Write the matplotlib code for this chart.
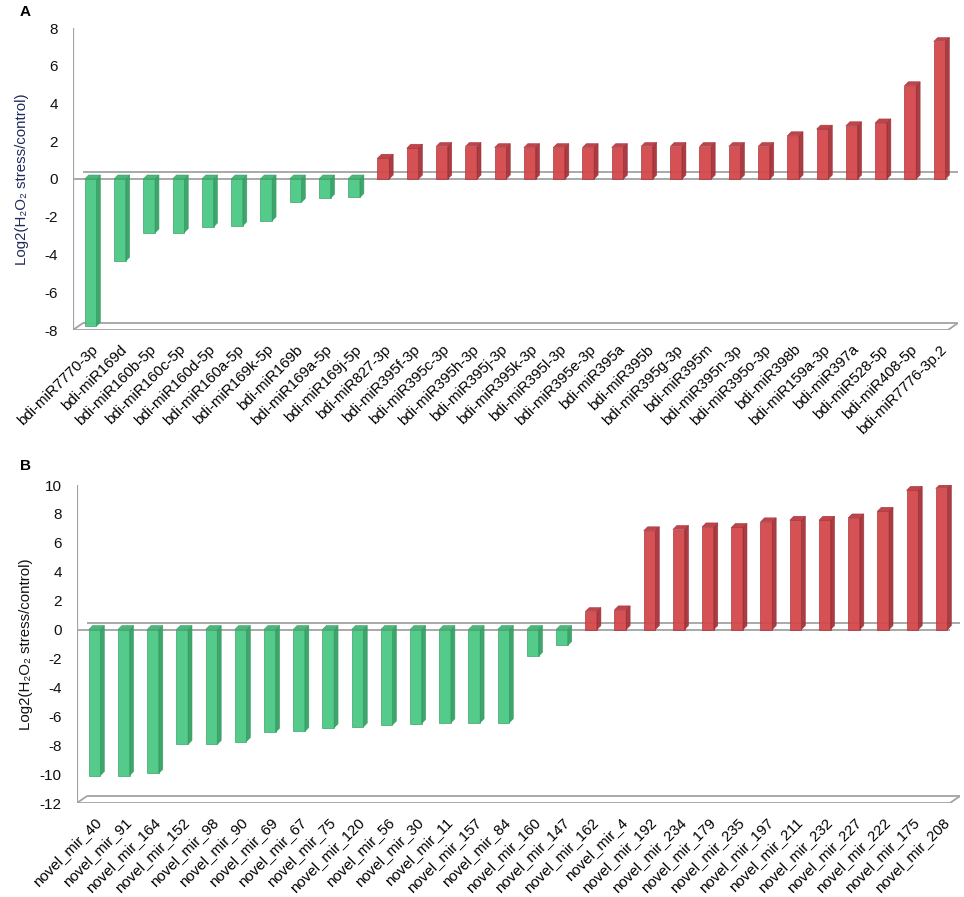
#!/usr/bin/env python3
"""Log2 fold change bars for known (A) and novel (B) miRNAs."""

import matplotlib
matplotlib.use("Agg")
import matplotlib.pyplot as plt
from matplotlib.patches import Polygon

plt.rcParams["font.family"] = ["Liberation Sans", "DejaVu Sans"]

labels_a = ["bdi-miR7770-3p", "bdi-miR169d", "bdi-miR160b-5p", "bdi-miR160c-5p",
            "bdi-miR160d-5p", "bdi-miR160a-5p", "bdi-miR169k-5p", "bdi-miR169b",
            "bdi-miR169a-5p", "bdi-miR169j-5p", "bdi-miR827-3p", "bdi-miR395f-3p",
            "bdi-miR395c-3p", "bdi-miR395h-3p", "bdi-miR395j-3p", "bdi-miR395k-3p",
            "bdi-miR395l-3p", "bdi-miR395e-3p", "bdi-miR395a", "bdi-miR395b",
            "bdi-miR395g-3p", "bdi-miR395m", "bdi-miR395n-3p", "bdi-miR395o-3p",
            "bdi-miR398b", "bdi-miR159a-3p", "bdi-miR397a", "bdi-miR528-5p",
            "bdi-miR408-5p", "bdi-miR7776-3p.2"]
values_a = [-7.8, -4.35, -2.86, -2.84, -2.54, -2.48, -2.22, -1.24, -1.01, -0.98,
            1.1, 1.63, 1.72, 1.72, 1.66, 1.66, 1.66, 1.66, 1.66, 1.72,
            1.72, 1.72, 1.72, 1.72, 2.29, 2.64, 2.82, 2.97, 4.94, 7.28]

labels_b = ["novel_mir_40", "novel_mir_91", "novel_mir_164", "novel_mir_152",
            "novel_mir_98", "novel_mir_90", "novel_mir_69", "novel_mir_67",
            "novel_mir_75", "novel_mir_120", "novel_mir_56", "novel_mir_30",
            "novel_mir_11", "novel_mir_157", "novel_mir_84", "novel_mir_160",
            "novel_mir_147", "novel_mir_162", "novel_mir_4", "novel_mir_192",
            "novel_mir_234", "novel_mir_179", "novel_mir_235", "novel_mir_197",
            "novel_mir_211", "novel_mir_232", "novel_mir_227", "novel_mir_222",
            "novel_mir_175", "novel_mir_208"]
values_b = [-10.1, -10.1, -9.95, -7.95, -7.95, -7.75, -7.1, -7.05, -6.8, -6.75,
            -6.6, -6.5, -6.45, -6.45, -6.45, -1.85, -1.1, 1.24, 1.36, 6.83,
            6.92, 7.1, 7.06, 7.45, 7.56, 7.56, 7.72, 8.18, 9.63, 9.75]

YLABEL = "Log2(H\u2082O\u2082 stress/control)"

GREEN = ("#4cc985", "#36a064", "#41b474")   # front, side, top
RED = ("#d4474b", "#a3323a", "#bc3b41")
LINE = "#a3a3a3"

W_PX, H_PX, DPI = 964, 897, 100


def panel(fig, rect, labels, values, ylim, yticks, ylabel_color):
    ax = fig.add_axes(rect)
    n = len(values)
    xlim = (-0.6, n - 0.37)
    ax.set_xlim(*xlim)
    ax.set_ylim(*ylim)

    # pixel -> data conversions for the fake 3D depth
    ux = rect[2] * W_PX / (xlim[1] - xlim[0])
    uy = rect[3] * H_PX / (ylim[1] - ylim[0])
    fdx, fdy = 10 / ux, 7 / uy     # floor / wall depth
    bdx, bdy = 4 / ux, 4 / uy      # bar depth
    hw = 0.2

    x0, x1 = xlim
    ymin = ylim[0]
    kw = dict(color=LINE, lw=1.3, solid_capstyle="butt", zorder=1)
    ax.plot([x0 + fdx, x1], [fdy, fdy], **kw)
    ax.plot([x0, x1 - fdx], [0, 0], **kw)
    ax.plot([x0, x1 - fdx], [ymin, ymin], **kw)
    ax.plot([x0 + fdx, x1], [ymin + fdy, ymin + fdy], **kw)
    ax.plot([x0, x0 + fdx], [ymin, ymin + fdy], **kw)
    ax.plot([x1 - fdx, x1], [ymin, ymin + fdy], **kw)
    ax.plot([x0, x0], [ymin, ylim[1]], color=LINE, lw=1.6, zorder=1)

    for i, v in enumerate(values):
        front, side, top = GREEN if v < 0 else RED
        ax.bar(i, v, width=2 * hw, color=front, edgecolor=side, lw=0.5,
               alpha=0.95, zorder=3)
        xr, xl = i + hw, i - hw
        ax.add_patch(Polygon([(xr, 0), (xr, v), (xr + bdx, v + bdy), (xr + bdx, bdy)],
                             closed=True, facecolor=side, edgecolor=side, lw=0.4,
                             alpha=0.95, zorder=3))
        t = max(v, 0)
        ax.add_patch(Polygon([(xl, t), (xr, t), (xr + bdx, t + bdy), (xl + bdx, t + bdy)],
                             closed=True, facecolor=top, edgecolor=side, lw=0.4,
                             alpha=0.95, zorder=3))

    for s in ax.spines.values():
        s.set_visible(False)
    ax.set_yticks(yticks)
    ax.set_yticklabels([str(y) for y in yticks])
    ax.tick_params(axis="y", length=0, pad=11, labelsize=11, labelcolor="#111111")
    ax.set_xticks(range(n))
    ax.set_xticklabels(labels, rotation=45, ha="right", va="top",
                       rotation_mode="anchor", fontsize=10.8)
    ax.tick_params(axis="x", length=0, pad=9)
    ax.set_ylabel(YLABEL, fontsize=10.8, color=ylabel_color)
    ax.yaxis.set_label_coords(-0.05, 0.5)
    return ax


def main():
    fig = plt.figure(figsize=(W_PX / DPI, H_PX / DPI), dpi=DPI)
    fig.patch.set_facecolor("white")

    panel(fig, [73 / W_PX, 1 - 330 / H_PX, 885 / W_PX, 302 / H_PX],
          labels_a, values_a, (-8, 8), list(range(-8, 9, 2)), "#1f2a5c")
    panel(fig, [77 / W_PX, 1 - 803 / H_PX, 883 / W_PX, 318 / H_PX],
          labels_b, values_b, (-12, 10), list(range(-12, 11, 2)), "#111111")

    fig.text(20 / W_PX, 1 - 12 / H_PX, "A", fontsize=11, fontweight="bold",
             ha="left", va="center")
    fig.text(20 / W_PX, 1 - 466 / H_PX, "B", fontsize=11, fontweight="bold",
             ha="left", va="center")

    fig.savefig("out.png", dpi=DPI, facecolor="white")
    plt.close(fig)


if __name__ == "__main__":
    main()
